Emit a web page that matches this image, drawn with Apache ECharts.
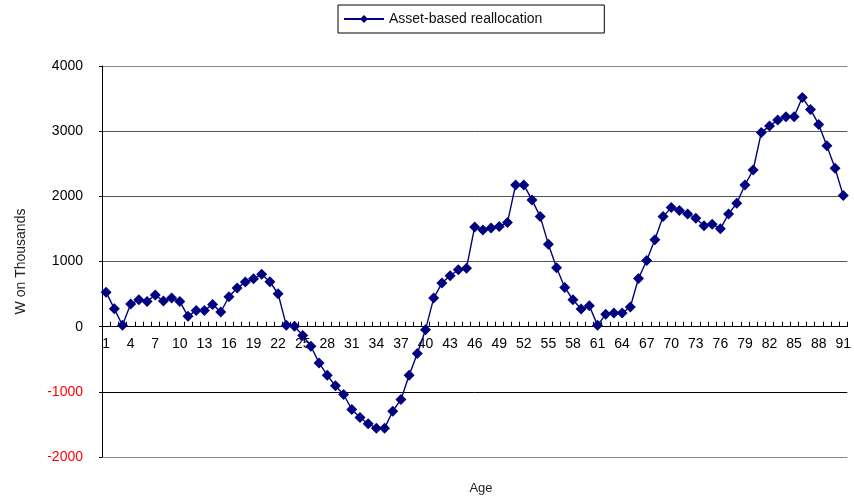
<!DOCTYPE html>
<html>
<head>
<meta charset="utf-8">
<script src="https://cdn.jsdelivr.net/npm/echarts@6/dist/echarts.min.js"></script>
<style>
  html, body { margin: 0; padding: 0; background: #fff; }
  #chart { width: 854px; height: 497px; }
</style>
</head>
<body>
<div id="chart"></div>
<script>
// Ages 1..91 along the category axis
const ages = [
  1, 2, 3, 4, 5, 6, 7, 8, 9, 10, 11, 12, 13, 14, 15, 16, 17, 18, 19, 20,
  21, 22, 23, 24, 25, 26, 27, 28, 29, 30, 31, 32, 33, 34, 35, 36, 37, 38, 39, 40,
  41, 42, 43, 44, 45, 46, 47, 48, 49, 50, 51, 52, 53, 54, 55, 56, 57, 58, 59, 60,
  61, 62, 63, 64, 65, 66, 67, 68, 69, 70, 71, 72, 73, 74, 75, 76, 77, 78, 79, 80,
  81, 82, 83, 84, 85, 86, 87, 88, 89, 90, 91
];

// Asset-based reallocation per age, in thousand won
const assetReallocation = [
  530, 276, 20, 347, 413, 388, 485, 393, 439, 388,
  158, 250, 250, 342, 225, 459, 592, 684, 735, 806,
  689, 505, 20, 5, -135, -301, -556, -745, -908, -1041,
  -1271, -1394, -1490, -1557, -1557, -1297, -1118, -745, -413, -46,
  439, 669, 781, 873, 898, 1530, 1485, 1515, 1536, 1597,
  2175, 2175, 1945, 1689, 1266, 904, 602, 413, 271, 322,
  20, 189, 209, 209, 301, 740, 1015, 1335, 1689, 1827,
  1781, 1730, 1664, 1547, 1572, 1501, 1730, 1894, 2175, 2404,
  2981, 3078, 3170, 3221, 3221, 3518, 3334, 3104, 2777, 2430,
  2011
];

// Value axis ticks
const yMin = -2000;
const yMax = 4000;
const yStep = 1000;

const seriesName = 'Asset-based reallocation';
const yTitle = 'W on Thousands';
const xTitle = 'Age';

// Plot box
const gridTop = 66;
const gridBottom = 40;
const chartHeight = 497;

// Shift the category axis up from the bottom edge to the zero line
const plotHeight = chartHeight - gridTop - gridBottom;
const zeroOffset = -plotHeight * (0 - yMin) / (yMax - yMin);

const chart = echarts.init(document.getElementById('chart'), null, { renderer: 'canvas' });

chart.setOption({
  backgroundColor: '#ffffff',
  animation: false,
  textStyle: { fontFamily: 'Liberation Sans, Arial, sans-serif' },
  title: {
    text: xTitle,
    left: 476,
    top: 477,
    textAlign: 'center',
    textStyle: { fontSize: 13, fontWeight: 'normal', color: '#222' }
  },
  legend: {
    data: [seriesName],
    left: 338,
    top: 5,
    itemWidth: 40,
    itemHeight: 10,
    itemGap: 6,
    padding: [7, 62, 7, 5],
    borderColor: '#000',
    borderWidth: 1,
    textStyle: { fontSize: 14, color: '#111' }
  },
  grid: {
    left: 102,
    right: 1,
    top: gridTop,
    bottom: gridBottom,
    containLabel: false
  },
  xAxis: {
    type: 'category',
    data: ages,
    boundaryGap: true,
    position: 'bottom',
    offset: zeroOffset,
    axisLine: { onZero: false, lineStyle: { color: '#000', width: 1 } },
    axisTick: { show: true, interval: 0, inside: true, length: 5, lineStyle: { color: '#000' } },
    axisLabel: { interval: 2, margin: 10, fontSize: 14, color: '#000', hideOverlap: false },
    splitLine: { show: false }
  },
  yAxis: {
    type: 'value',
    min: yMin,
    max: yMax,
    interval: yStep,
    name: yTitle,
    nameLocation: 'middle',
    nameGap: 74,
    nameRotate: 90,
    nameTextStyle: { fontSize: 14, color: '#222' },
    axisLine: { show: true, lineStyle: { color: '#000', width: 1 } },
    axisTick: { show: true, length: 3, lineStyle: { color: '#000' } },
    axisLabel: {
      margin: 19,
      fontSize: 14,
      formatter: function (value) { return String(value); },
      color: function (value) { return Number(value) < 0 ? '#ff0000' : '#000000'; }
    },
    splitLine: {
      show: true,
      lineStyle: {
        color: ['#888888', '#000000', '#000000', '#555555', '#555555', '#555555', '#888888'],
        width: 1
      }
    }
  },
  series: [{
    name: seriesName,
    type: 'line',
    data: assetReallocation,
    symbol: 'diamond',
    symbolSize: 11,
    showAllSymbol: true,
    itemStyle: { color: '#000080' },
    lineStyle: { color: '#000080', width: 1.4 }
  }]
});
</script>
</body>
</html>
